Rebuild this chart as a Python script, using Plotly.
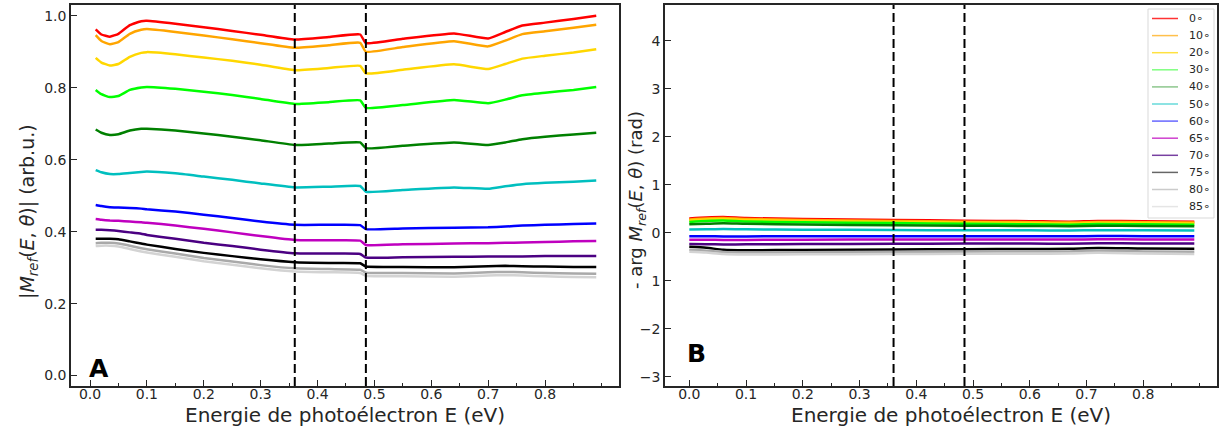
import plotly.graph_objects as go

# ---------------- data ----------------
angles = ["0∘", "10∘", "20∘", "30∘", "40∘", "50∘", "60∘", "65∘", "70∘", "75∘", "80∘", "85∘"]
colors = ["#ff0000", "#ffa500", "#ffd700", "#00ff00", "#008000", "#00bfbf",
          "#0000ff", "#bf00bf", "#4b0082", "#000000", "#a9a9a9", "#d3d3d3"]
legend_colors = ["rgba(255,0,0,0.8)", "rgba(255,165,0,0.7)", "rgba(255,215,0,0.75)",
                 "rgba(0,255,0,0.5)", "rgba(0,128,0,0.45)", "rgba(0,191,191,0.6)",
                 "rgba(0,0,255,0.6)", "rgba(191,0,191,0.75)", "rgba(75,0,130,0.75)",
                 "rgba(0,0,0,0.6)", "rgba(169,169,169,0.6)", "rgba(211,211,211,0.6)"]

energy = [0.01, 0.02, 0.035, 0.05, 0.07, 0.09, 0.10, 0.15, 0.20, 0.25, 0.30, 0.36,
          0.42, 0.475, 0.485, 0.55, 0.64, 0.70, 0.73, 0.76, 0.80, 0.85, 0.89]

modulus = {
    "0∘":  [0.962, 0.948, 0.942, 0.950, 0.974, 0.985, 0.986, 0.978, 0.968, 0.958, 0.947, 0.934,
            0.941, 0.948, 0.924, 0.936, 0.951, 0.937, 0.955, 0.973, 0.981, 0.991, 1.000],
    "10∘": [0.946, 0.930, 0.921, 0.927, 0.950, 0.961, 0.963, 0.955, 0.945, 0.935, 0.924, 0.911,
            0.918, 0.925, 0.900, 0.913, 0.929, 0.915, 0.931, 0.949, 0.957, 0.967, 0.975],
    "20∘": [0.883, 0.870, 0.862, 0.866, 0.886, 0.897, 0.899, 0.893, 0.884, 0.875, 0.864, 0.849,
            0.855, 0.861, 0.840, 0.850, 0.865, 0.852, 0.866, 0.881, 0.889, 0.898, 0.907],
    "30∘": [0.794, 0.782, 0.774, 0.777, 0.794, 0.801, 0.802, 0.797, 0.789, 0.780, 0.769, 0.755,
            0.760, 0.765, 0.744, 0.752, 0.766, 0.757, 0.767, 0.779, 0.786, 0.794, 0.802],
    "40∘": [0.684, 0.675, 0.669, 0.671, 0.681, 0.686, 0.686, 0.681, 0.673, 0.664, 0.654, 0.641,
            0.645, 0.648, 0.632, 0.639, 0.648, 0.641, 0.648, 0.657, 0.664, 0.670, 0.675],
    "50∘": [0.571, 0.565, 0.560, 0.560, 0.563, 0.566, 0.567, 0.562, 0.553, 0.544, 0.534, 0.523,
            0.525, 0.527, 0.511, 0.516, 0.523, 0.519, 0.526, 0.532, 0.536, 0.539, 0.542],
    "60∘": [0.474, 0.471, 0.468, 0.467, 0.466, 0.464, 0.462, 0.456, 0.447, 0.438, 0.428, 0.419,
            0.419, 0.418, 0.407, 0.409, 0.411, 0.412, 0.414, 0.417, 0.419, 0.421, 0.423],
    "65∘": [0.435, 0.433, 0.431, 0.430, 0.428, 0.426, 0.425, 0.417, 0.408, 0.398, 0.388, 0.377,
            0.376, 0.375, 0.363, 0.365, 0.367, 0.368, 0.369, 0.370, 0.371, 0.373, 0.374],
    "70∘": [0.405, 0.405, 0.404, 0.402, 0.398, 0.394, 0.391, 0.380, 0.369, 0.360, 0.350, 0.340,
            0.339, 0.338, 0.328, 0.329, 0.330, 0.331, 0.331, 0.331, 0.332, 0.332, 0.332],
    "75∘": [0.380, 0.380, 0.380, 0.379, 0.373, 0.367, 0.364, 0.352, 0.341, 0.332, 0.323, 0.315,
            0.313, 0.312, 0.303, 0.302, 0.301, 0.304, 0.305, 0.304, 0.303, 0.302, 0.302],
    "80∘": [0.368, 0.369, 0.369, 0.367, 0.361, 0.354, 0.351, 0.339, 0.327, 0.317, 0.307, 0.298,
            0.296, 0.294, 0.286, 0.285, 0.284, 0.287, 0.288, 0.287, 0.285, 0.284, 0.283],
    "85∘": [0.360, 0.361, 0.361, 0.359, 0.352, 0.345, 0.342, 0.330, 0.318, 0.308, 0.298, 0.289,
            0.287, 0.285, 0.277, 0.276, 0.275, 0.278, 0.279, 0.278, 0.276, 0.274, 0.273],
}

energy_phase = [0.0, 0.03, 0.06, 0.10, 0.20, 0.36, 0.485, 0.60, 0.67, 0.72, 0.80, 0.89]
phase = {
    "0∘":  [0.30, 0.32, 0.33, 0.31, 0.29, 0.27, 0.255, 0.245, 0.235, 0.25, 0.245, 0.235],
    "10∘": [0.28, 0.30, 0.31, 0.29, 0.27, 0.25, 0.235, 0.225, 0.215, 0.23, 0.225, 0.215],
    "20∘": [0.26, 0.28, 0.29, 0.27, 0.25, 0.23, 0.215, 0.205, 0.195, 0.21, 0.205, 0.195],
    "30∘": [0.23, 0.25, 0.26, 0.24, 0.22, 0.205, 0.19, 0.18, 0.172, 0.185, 0.18, 0.172],
    "40∘": [0.18, 0.19, 0.20, 0.19, 0.175, 0.16, 0.15, 0.145, 0.14, 0.15, 0.145, 0.14],
    "50∘": [0.07, 0.075, 0.08, 0.075, 0.068, 0.06, 0.056, 0.054, 0.052, 0.056, 0.054, 0.052],
    "60∘": [-0.07, -0.07, -0.072, -0.072, -0.07, -0.068, -0.067, -0.067, -0.068, -0.066, -0.067, -0.067],
    "65∘": [-0.14, -0.14, -0.145, -0.145, -0.14, -0.137, -0.135, -0.135, -0.137, -0.133, -0.135, -0.135],
    "70∘": [-0.23, -0.235, -0.24, -0.238, -0.232, -0.225, -0.222, -0.222, -0.225, -0.215, -0.22, -0.22],
    "75∘": [-0.29, -0.31, -0.35, -0.36, -0.355, -0.345, -0.338, -0.335, -0.33, -0.315, -0.325, -0.33],
    "80∘": [-0.35, -0.37, -0.40, -0.41, -0.405, -0.395, -0.39, -0.388, -0.385, -0.37, -0.385, -0.39],
    "85∘": [-0.39, -0.41, -0.44, -0.45, -0.445, -0.44, -0.435, -0.435, -0.43, -0.415, -0.43, -0.44],
}

thresholds = [0.36, 0.485]
x_ticks = [0.0, 0.1, 0.2, 0.3, 0.4, 0.5, 0.6, 0.7, 0.8]
x_ticklabels = ["0.0", "0.1", "0.2", "0.3", "0.4", "0.5", "0.6", "0.7", "0.8"]
yA_ticks = [0.0, 0.2, 0.4, 0.6, 0.8, 1.0]
yA_ticklabels = ["0.0", "0.2", "0.4", "0.6", "0.8", "1.0"]
yB_ticks = [-3, -2, -1, 0, 1, 2, 3, 4]
yB_ticklabels = ["−3", "−2", "1", "0", "1", "2", "3", "4"]

x_title = "Energie de photoélectron E (eV)"
yA_title = "|<i>M</i><sub><i>ref</i></sub>(<i>E</i>, <i>θ</i>)| (arb.u.)"
yB_title = "- arg <i>M</i><sub><i>ref</i></sub>(<i>E</i>, <i>θ</i>) (rad)"

# ---------------- figure ----------------
W, H = 1219, 437
FONT = "DejaVu Sans"
SPINE = "#262626"

fig = go.Figure()

for name, col in zip(angles, colors):
    fig.add_trace(go.Scatter(x=energy, y=modulus[name], mode="lines", xaxis="x", yaxis="y",
                             line=dict(color=col, width=2.5, shape="spline", smoothing=0.4),
                             showlegend=False, hoverinfo="skip"))
for name, col in zip(angles, colors):
    fig.add_trace(go.Scatter(x=energy_phase, y=phase[name], mode="lines", xaxis="x2", yaxis="y2",
                             line=dict(color=col, width=2.5, shape="spline", smoothing=0.6),
                             showlegend=False, hoverinfo="skip"))


def px_x(p):
    return p / W


def px_y(p):
    return 1 - p / H


top, bottom = 5, 386
ydom = [px_y(bottom), px_y(top)]

axis_common = dict(showline=True, linecolor=SPINE, linewidth=1.5, mirror=True,
                   ticks="inside", ticklen=6, tickwidth=1.2, tickcolor=SPINE,
                   showgrid=False, zeroline=False,
                   tickfont=dict(family=FONT, size=14, color="#262626"))
minor_x = dict(dtick=0.05, tick0=0, ticks="inside", ticklen=3, tickcolor=SPINE, tickwidth=1)

fig.update_layout(
    width=W, height=H,
    margin=dict(l=0, r=0, t=0, b=0),
    paper_bgcolor="white", plot_bgcolor="white",
    font=dict(family=FONT, color="#262626"),
    showlegend=False,
    xaxis=dict(domain=[px_x(71), px_x(619)], range=[-0.0334, 0.930], anchor="y",
               tickvals=x_ticks, ticktext=x_ticklabels, minor=minor_x,
               ticklabelstandoff=-6, **axis_common),
    yaxis=dict(domain=ydom, range=[-0.029, 1.030], anchor="x",
               tickvals=yA_ticks, ticktext=yA_ticklabels, **axis_common),
    xaxis2=dict(domain=[px_x(665), px_x(1217)], range=[-0.0428, 0.930], anchor="y2",
                tickvals=x_ticks, ticktext=x_ticklabels, minor=minor_x,
                ticklabelstandoff=-6, **axis_common),
    yaxis2=dict(domain=ydom, range=[-3.19, 4.75], anchor="x2",
                tickvals=yB_ticks, ticktext=yB_ticklabels, **axis_common),
)

# vertical dashed markers
for xr, yr in (("x", "y"), ("x2", "y2")):
    for t in thresholds:
        fig.add_shape(type="line", xref=xr, yref=f"{yr} domain", x0=t, x1=t, y0=0, y1=1,
                      line=dict(color="black", width=2, dash="9px,4px"))

# legend box (drawn manually to match the compact matplotlib legend)
leg_left, leg_right, leg_top, leg_bottom = 1148, 1214, 9, 218
fig.add_shape(type="rect", xref="paper", yref="paper", layer="above",
              x0=px_x(leg_left), x1=px_x(leg_right), y0=px_y(leg_bottom), y1=px_y(leg_top),
              line=dict(color="#d9d9d9", width=1), fillcolor="rgba(255,255,255,0.85)")
row0, row_h = 18.5, 17.1
for i, (name, col) in enumerate(zip(angles, legend_colors)):
    yy = row0 + i * row_h
    fig.add_shape(type="line", xref="paper", yref="paper", layer="above",
                  x0=px_x(1152), x1=px_x(1178), y0=px_y(yy), y1=px_y(yy),
                  line=dict(color=col, width=1.5))
    fig.add_annotation(xref="paper", yref="paper", showarrow=False, text=name,
                       x=px_x(1187), y=px_y(yy), xanchor="left", yanchor="middle",
                       font=dict(family=FONT, size=11, color="#262626"))

ann = [
    dict(text=x_title, x=px_x(345), y=px_y(415), font=dict(size=20)),
    dict(text=x_title, x=px_x(951), y=px_y(415), font=dict(size=20)),
    dict(text=yA_title, x=px_x(28), y=px_y(212), textangle=-90, font=dict(size=19)),
    dict(text=yB_title, x=px_x(637), y=px_y(200), textangle=-90, font=dict(size=18)),
    dict(text="<b>A</b>", x=px_x(99), y=px_y(368), font=dict(size=25, color="black")),
    dict(text="<b>B</b>", x=px_x(696), y=px_y(353), font=dict(size=25, color="black")),
]
for a in ann:
    fig.add_annotation(xref="paper", yref="paper", showarrow=False,
                       xanchor="center", yanchor="middle", font_family=FONT, **a)

fig.write_html("out.html", config={"displayModeBar": False},
               post_script="document.body.style.margin='0';document.body.style.overflow='hidden';")
